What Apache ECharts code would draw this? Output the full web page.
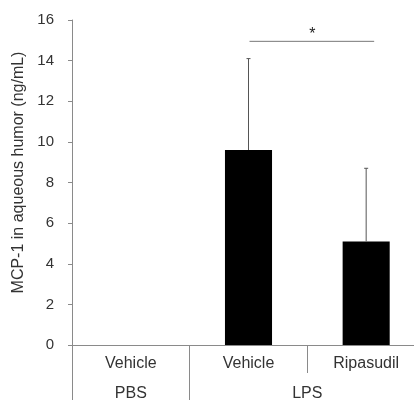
<!DOCTYPE html>
<html><head><meta charset="utf-8">
<script src="https://cdn.jsdelivr.net/npm/echarts@6/dist/echarts.min.js"></script>
<style>html,body{margin:0;padding:0;background:#fff}#c{width:414px;height:400px}</style>
</head><body><div id="c"></div>
<script>
var categories = ['Vehicle', 'Vehicle', 'Ripasudil'];
var groups = ['PBS', 'LPS'];
var groupSpans = [1, 2];
var means = [0, 9.6, 5.1];
var errUpper = [0, 14.1, 8.7];
var yTicks = [0, 2, 4, 6, 8, 10, 12, 14, 16];
var sigPair = [1, 2];
var sigLevel = 14.95;
var sigLabel = '*';
var yTitle = 'MCP-1 in aqueous humor (ng/mL)';

var FONT = 'Liberation Sans, Arial, sans-serif';
var AX = '#8a8a8a';

var groupBounds = [0], groupCenters = [];
groupSpans.forEach(function (s, i) {
  var start = groupBounds[i];
  groupCenters.push(start + s / 2);
  groupBounds.push(start + s);
});

var errData = categories.map(function (c, i) { return [i, means[i], errUpper[i]]; });

var chart = echarts.init(document.getElementById('c'), null, { renderer: 'canvas' });
chart.setOption({
  animation: false,
  grid: { left: 72, width: 353, top: 20, bottom: 55, containLabel: false, outerBoundsMode: 'none' },
  xAxis: [
    {
      type: 'category', data: categories, gridIndex: 0, position: 'bottom',
      boundaryGap: true,
      axisLine: { show: true, lineStyle: { color: AX, width: 1 } },
      axisTick: { show: true, length: 28, interval: 0, alignWithLabel: false, lineStyle: { color: AX } },
      axisLabel: { margin: 11, fontSize: 16, color: '#333', fontFamily: FONT, interval: 0 }
    },
    {
      type: 'value', gridIndex: 0, position: 'bottom', min: 0, max: categories.length,
      axisLine: { show: false },
      splitLine: { show: false },
      axisTick: { show: true, length: 55, customValues: groupBounds.slice(0, groupBounds.length - 1), lineStyle: { color: AX } },
      axisLabel: {
        margin: 41, fontSize: 16, color: '#333', fontFamily: FONT,
        customValues: groupCenters,
        formatter: function (v) {
          var k = groupCenters.indexOf(v);
          return k >= 0 ? groups[k] : '';
        }
      }
    }
  ],
  yAxis: {
    type: 'value', min: yTicks[0], max: yTicks[yTicks.length - 1], interval: yTicks[1] - yTicks[0],
    name: yTitle, nameLocation: 'middle', nameGap: 44, nameRotate: 90,
    nameTextStyle: { fontSize: 16, color: '#333', fontFamily: FONT, padding: [0, 0, 0, 20] },
    axisLine: { show: true, lineStyle: { color: AX, width: 1 } },
    axisTick: { show: true, length: 4, inside: false, lineStyle: { color: AX } },
    axisLabel: { margin: 18, fontSize: 15, color: '#333', fontFamily: FONT },
    splitLine: { show: false }
  },
  series: [
    {
      type: 'bar', xAxisIndex: 0, data: means, barWidth: '40%',
      itemStyle: { color: '#000' }
    },
    {
      type: 'custom', xAxisIndex: 0, data: errData, z: 3,
      renderItem: function (params, api) {
        var x = api.value(0), m = api.value(1), t = api.value(2);
        if (t <= m) return null;
        var p0 = api.coord([x, m]), p1 = api.coord([x, t]);
        var cap = 2;
        return {
          type: 'group', children: [
            { type: 'line', shape: { x1: p0[0], y1: p0[1], x2: p1[0], y2: p1[1] }, style: { stroke: '#555', lineWidth: 1 } },
            { type: 'line', shape: { x1: p1[0] - cap, y1: p1[1], x2: p1[0] + cap, y2: p1[1] }, style: { stroke: '#555', lineWidth: 1 } }
          ]
        };
      }
    },
    {
      type: 'custom', xAxisIndex: 0, data: [[sigPair[0], sigPair[1], sigLevel]], z: 3,
      renderItem: function (params, api) {
        var a = api.coord([api.value(0), api.value(2)]);
        var b = api.coord([api.value(1), api.value(2)]);
        return {
          type: 'group', children: [
            { type: 'line', shape: { x1: a[0] + 1, y1: a[1], x2: b[0] + 8, y2: b[1] }, style: { stroke: '#777', lineWidth: 1 } },
            { type: 'text', x: (a[0] + b[0]) / 2 + 5, y: a[1] + 1,
              style: { text: sigLabel, fontSize: 16, fontFamily: FONT, fill: '#222', align: 'center', verticalAlign: 'bottom' } }
          ]
        };
      }
    }
  ]
});
</script></body></html>
